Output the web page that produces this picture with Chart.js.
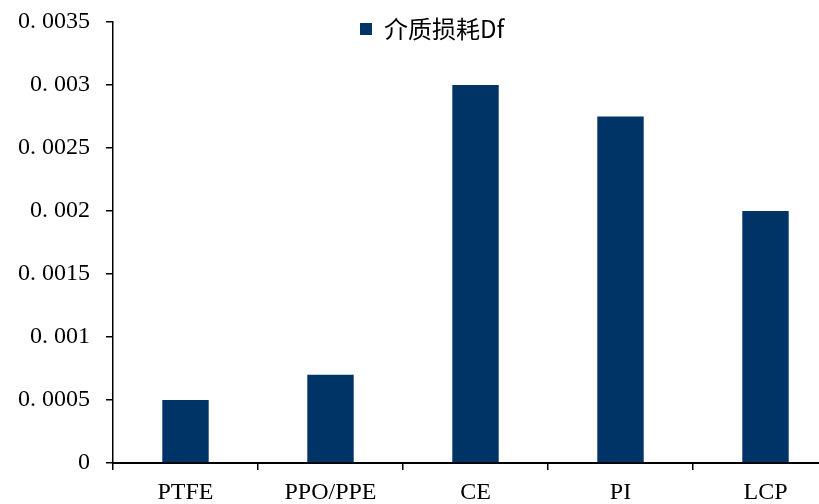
<!DOCTYPE html>
<html>
<head>
<meta charset="utf-8">
<script src="https://cdn.jsdelivr.net/npm/chart.js@4.4.1/dist/chart.umd.min.js"></script>
<style>
  html, body { margin: 0; padding: 0; background: #fff; overflow: hidden; }
  #wrap { width: 850px; height: 504px; position: relative; }
</style>
</head>
<body>
<div id="wrap"><canvas id="chart"></canvas></div>
<script>
// 数据
const categories = ['PTFE', 'PPO/PPE', 'CE', 'PI', 'LCP'];
const dfValues = [0.0005, 0.0007, 0.003, 0.00275, 0.002];
const yTickLabels = ['0', '0. 0005', '0. 001', '0. 0015', '0. 002', '0. 0025', '0. 003', '0. 0035'];
const seriesName = '介质损耗Df';

const tickFont = { family: "'Liberation Serif', 'Noto Sans CJK SC'", size: 24 };

// 图例放在绘图区内上方（原图图例略偏左）
const legendPlace = {
    id: 'legendPlace',
    afterLayout(chart) {
        const lg = chart.legend;
        if (!lg) return;
        const w = lg.right - lg.left;
        lg.left = 360;
        lg.right = lg.left + w;
        lg.top = chart.chartArea.top - 5;
    },
};

new Chart(document.getElementById('chart'), {
    type: 'bar',
    data: {
        labels: categories,
        datasets: [
            {
                label: seriesName,
                data: dfValues,
                backgroundColor: '#003366',
                borderWidth: 0,
                barPercentage: 0.32,
                categoryPercentage: 1,
            },
        ],
    },
    options: {
        responsive: true,
        maintainAspectRatio: false,
        animation: false,
        layout: { padding: { top: 22, left: 0, right: 12, bottom: 0 } },
        plugins: {
            legend: {
                position: 'chartArea',
                align: 'start',
                labels: {
                    boxWidth: 12,
                    boxHeight: 12,
                    padding: 0,
                    color: '#000',
                    font: { family: "'Noto Sans CJK SC', 'Liberation Serif'", size: 24 },
                },
            },
            tooltip: { enabled: false },
        },
        scales: {
            x: {
                grid: { drawOnChartArea: false, drawTicks: true, tickLength: 7, color: '#000', lineWidth: 1.5 },
                border: { color: '#000', width: 2 },
                ticks: { color: '#000', font: tickFont, padding: 8 },
                afterFit: (scale) => { scale.height = 41; },
            },
            y: {
                min: 0,
                max: 0.0035,
                grid: { drawOnChartArea: false, drawTicks: true, tickLength: 7, color: '#000', lineWidth: 1.5 },
                border: { color: '#000', width: 1.5 },
                ticks: {
                    stepSize: 0.0005,
                    color: '#000',
                    font: tickFont,
                    padding: 16,
                    callback: (v, i) => yTickLabels[i],
                },
                afterFit: (scale) => {
                    scale.width = 113;
                    scale.paddingTop = 0;
                    scale.paddingBottom = 0;
                },
            },
        },
    },
    plugins: [legendPlace],
});
</script>
</body>
</html>
